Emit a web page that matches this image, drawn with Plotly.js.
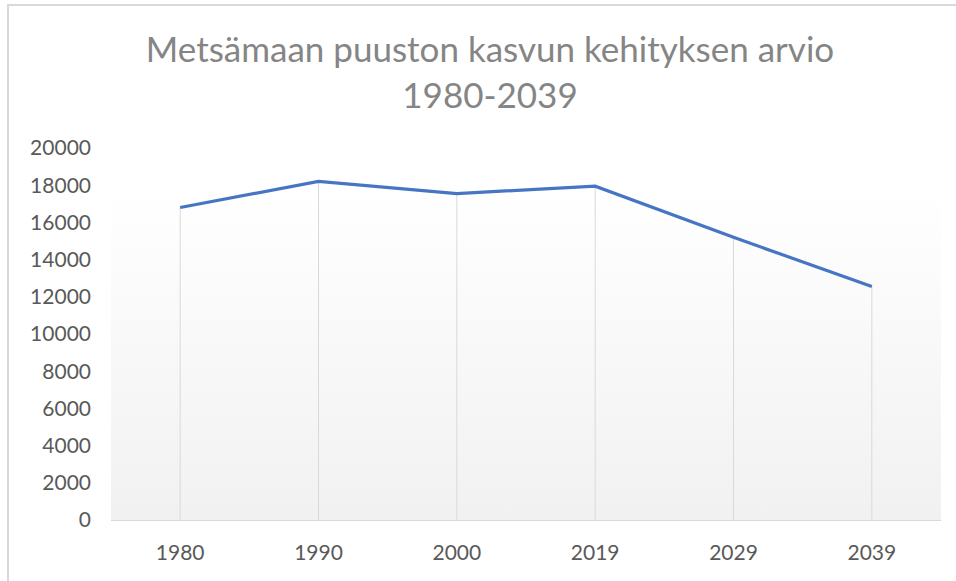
<!DOCTYPE html>
<html>
<head>
<meta charset="utf-8">
<script src="https://cdn.plot.ly/plotly-3.0.1.min.js"></script>
<style>
  html, body { margin: 0; padding: 0; background: #ffffff; overflow: hidden; }
  #chart { width: 956px; height: 581px; position: relative; }
  #frame { position: absolute; left: 7px; top: 4px; width: 1200px; height: 1000px;
           border-left: 2px solid #d9d9d9; border-top: 2px solid #d9d9d9; pointer-events: none; }
</style>
</head>
<body>
<div id="chart"></div>
<div id="frame"></div>
<script>
const years = ['1980', '1990', '2000', '2019', '2029', '2039'];
const growth = [16800, 18200, 17550, 17950, 15200, 12550];
const yTicks = [0, 2000, 4000, 6000, 8000, 10000, 12000, 14000, 16000, 18000, 20000];
const titleText = 'Metsämaan puuston kasvun kehityksen arvio<br>1980-2039';

const dropX = [], dropY = [];
years.forEach((c, i) => { dropX.push(c, c, null); dropY.push(0, growth[i], null); });

const gradSvg = '<svg xmlns="http://www.w3.org/2000/svg" width="100" height="100" preserveAspectRatio="none">' +
  '<defs><linearGradient id="g" x1="0" y1="0" x2="0" y2="1">' +
  '<stop offset="0" stop-color="#ffffff"/><stop offset="1" stop-color="#f1f1f1"/>' +
  '</linearGradient></defs><rect width="100" height="100" fill="url(#g)"/></svg>';
const gradUri = 'data:image/svg+xml;charset=utf-8,' + encodeURIComponent(gradSvg);

const traces = [
  {
    x: dropX, y: dropY, type: 'scatter', mode: 'lines',
    line: { color: '#d9d9d9', width: 1 }, connectgaps: false,
    hoverinfo: 'skip', showlegend: false
  },
  {
    x: years, y: growth, type: 'scatter', mode: 'lines',
    line: { color: '#4676c3', width: 3.2 }, showlegend: false
  }
];

const layout = {
  width: 956, height: 581,
  margin: { l: 111, r: 15, t: 148, b: 61 },
  paper_bgcolor: '#ffffff',
  plot_bgcolor: 'rgba(0,0,0,0)',
  font: { family: 'Lato, "Open Sans", sans-serif', color: '#595959' },
  title: {
    text: titleText,
    font: { family: 'Lato, "Open Sans", sans-serif', size: 35, color: '#858585' },
    x: 490 / 956, xref: 'container', xanchor: 'center',
    y: 1 - 62 / 581, yref: 'container', yanchor: 'top'
  },
  xaxis: {
    type: 'category', range: [-0.5, 5.5],
    showgrid: false, zeroline: false,
    showline: true, linecolor: '#d9d9d9', linewidth: 1,
    ticks: '', ticklabelstandoff: 14,
    tickfont: { size: 21, color: '#595959' }
  },
  yaxis: {
    range: [0, 20000], tickvals: yTicks, ticktext: yTicks.map(String),
    showgrid: false, zeroline: false, showline: false,
    ticks: '', ticklabelstandoff: 19,
    tickfont: { size: 21, color: '#595959' }
  },
  images: [{
    source: gradUri, xref: 'paper', yref: 'paper',
    x: 0, y: (520 - 190) / 372, sizex: 1, sizey: (520 - 190) / 372,
    xanchor: 'left', yanchor: 'top', sizing: 'stretch', layer: 'below'
  }]
};

Plotly.newPlot('chart', traces, layout, { staticPlot: true, displayModeBar: false });
</script>
</body>
</html>
